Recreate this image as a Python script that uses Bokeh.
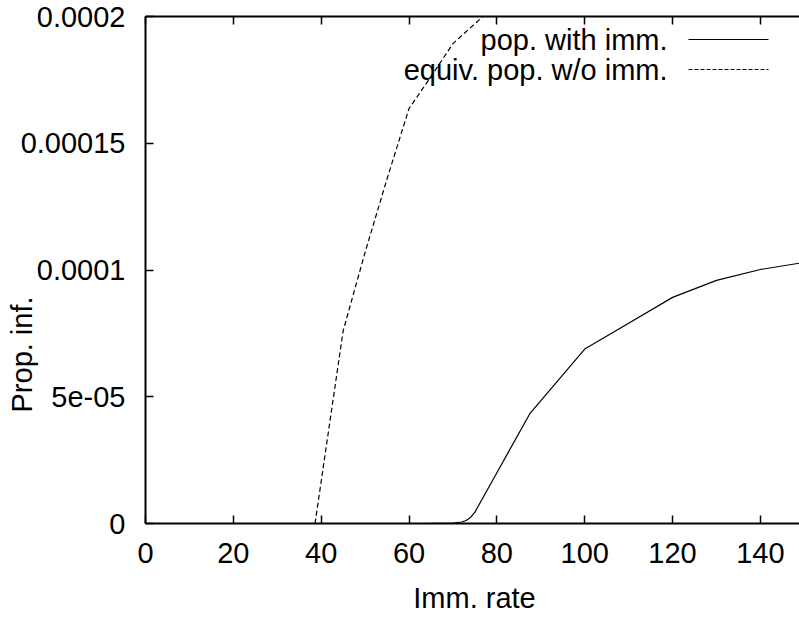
import math
from bokeh.plotting import figure
from bokeh.models import Range1d, LinearAxis, FixedTicker, Label, Arrow, Title
from bokeh.embed import file_html
from bokeh.resources import INLINE

# data
with_imm_x = [10, 20, 30, 40, 50, 60, 65, 70, 72, 73, 74, 75, 80, 87.5, 100, 110, 120, 130, 140, 150]
with_imm_y = [0, 0, 0, 0, 0, 0, 2e-8, 2e-7, 6e-7, 1.2e-6, 2.4e-6, 4.5e-6, 2.0e-5, 4.33e-5,
              6.88e-5, 7.9e-5, 8.92e-5, 9.59e-5, 1.002e-4, 1.03e-4]
equiv_x = [38.6, 45, 50, 55, 60, 65, 70, 80]
equiv_y = [0, 7.6e-5, 1.07e-4, 1.36e-4, 1.637e-4, 1.763e-4, 1.893e-4, 2.05e-4]
x_ticks = [0, 20, 40, 60, 80, 100, 120, 140]
y_ticks = [0, 5e-05, 0.0001, 0.00015, 0.0002]
y_tick_labels = ["0", "5e-05", "0.0001", "0.00015", "0.0002"]
series_names = ["pop. with imm.", "equiv. pop. w/o imm."]
x_title = "Imm. rate"
y_title = "Prop. inf."

FONT = "Liberation Sans"
FS = "29px"

W, H = 799, 619
FL, FT, FB = 145, 16, 523  # frame left / top / bottom in page pixels

p = figure(width=W, height=H, output_backend="svg", toolbar_location=None,
           x_range=Range1d(0, 148.9), y_range=Range1d(0, 0.0002),
           x_axis_location=None, y_axis_location=None)
p.min_border_left = FL
p.min_border_right = 0
p.min_border_top = FT
p.min_border_bottom = H - FB
p.outline_line_color = None
p.xgrid.visible = False
p.ygrid.visible = False
p.background_fill_color = "white"
p.border_fill_color = "white"

def style_axis(ax):
    ax.axis_line_width = 2
    ax.axis_line_color = "black"
    ax.major_tick_line_width = 1.5
    ax.major_tick_in = 8
    ax.major_tick_out = 0
    ax.minor_tick_line_color = None
    ax.major_label_text_font = FONT
    ax.major_label_text_font_size = FS
    ax.major_label_text_color = "black"

xb = LinearAxis(ticker=FixedTicker(ticks=x_ticks))
style_axis(xb)
xb.major_label_standoff = 19
p.add_layout(xb, "below")

xt = LinearAxis(ticker=FixedTicker(ticks=x_ticks))
style_axis(xt)
xt.major_label_standoff = 0
xt.major_label_overrides = {t: "" for t in x_ticks}
p.add_layout(xt, "above")

yl = LinearAxis(ticker=FixedTicker(ticks=y_ticks))
style_axis(yl)
yl.major_label_standoff = 20
yl.major_label_overrides = {t: s for t, s in zip(y_ticks, y_tick_labels)}
p.add_layout(yl, "left")

# y title: a left-side Title, started 111 px above the frame bottom
p.add_layout(Title(text=y_title, align="left", vertical_align="bottom", offset=111,
                   standoff=-40, text_font=FONT, text_font_size=FS,
                   text_font_style="normal", text_color="black"), "left")

p.line(with_imm_x, with_imm_y, line_color="black", line_width=1.2)
p.line(equiv_x, equiv_y, line_color="black", line_width=1.2, line_dash="5 3")

# screen units inside the frame: x from frame left, y up from frame bottom
def sx(px):
    return px - FL

def sy(py):
    return FB - py

# x title in the bottom side panel (not clipped to the frame)
p.add_layout(Label(x=329, y=0, x_units="screen", y_units="screen", text=x_title,
                   text_font=FONT, text_font_size=FS, text_align="center",
                   text_color="black", text_baseline="alphabetic"), "below")

# legend
for i, (name, dash) in enumerate(zip(series_names, ["solid", "4 2"])):
    cy = 39 + 30 * i
    p.add_layout(Label(x=sx(667), y=sy(cy), x_units="screen", y_units="screen",
                       text=name, text_font=FONT, text_font_size=FS, text_align="right",
                       text_color="black", text_baseline="middle"))
    p.add_layout(Arrow(end=None, start=None, x_start=sx(688), x_end=sx(768),
                       y_start=sy(cy), y_end=sy(cy),
                       start_units="screen", end_units="screen",
                       line_color="black", line_width=1, line_dash=dash))

open("out.html", "w").write(file_html(p, INLINE))
